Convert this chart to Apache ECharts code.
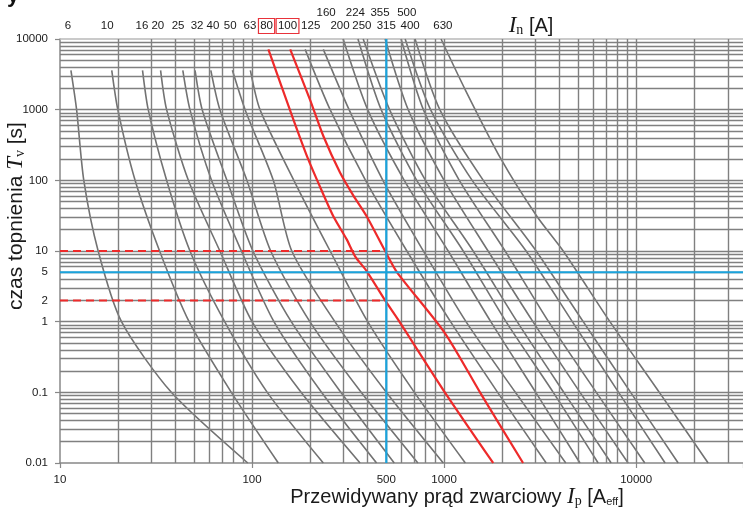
<!DOCTYPE html>
<html><head><meta charset="utf-8">
<script src="https://cdn.jsdelivr.net/npm/echarts@6/dist/echarts.min.js"></script>
<style>html,body{margin:0;padding:0;background:#fff}#c{width:743px;height:514px}</style>
</head><body><div id="c"></div>
<script>
// ---- data: melting curves [current A, time s] ----
const f6   = [[11.4,3600],[12.2,1000],[13.3,100],[15.8,10],[20.9,1],[38,0.1],[95,0.01]];
const f10  = [[18.6,3600],[20,1000],[24.6,100],[33,10],[47,1],[78,0.1],[137,0.01]];
const f16  = [[26.9,3600],[28.8,1000],[35.9,100],[47.5,10],[72,1],[120,0.1],[235,0.01]];
const f20  = [[33.4,3600],[35.9,1000],[46.6,100],[68,10],[100,1],[180,0.1],[365,0.01]];
const f25  = [[43.6,3600],[47.5,1000],[61.5,100],[88,10],[130,1],[230,0.1],[445,0.01]];
const f32  = [[50.5,3600],[55,1000],[74,100],[101,10],[160,1],[290,0.1],[550,0.01]];
const f40  = [[61,3600],[68,1000],[94,100],[125,10],[200,1],[370,0.1],[730,0.01]];
const f50  = [[79,3600],[92,1000],[129,100],[161,10],[270,1],[500,0.1],[990,0.01]];
const f63  = [[98,3600],[110,1000],[165,100],[255,10],[400,1],[700,0.1],[1290,0.01]];
const f80  = [[121.6,7140],[164,731],[196,199],[221,92.7],[265,31],[311,14.6],[344,8.4],[395,5.2],[493,2.0],[576,1.07],[1009,0.1],[1800,0.01]];
const f100 = [[158,7140],[200,1402],[235,424],[287,129],[337,60.7],[395,31],[493,10],[569,5],[1009,0.69],[1563,0.093],[2577,0.01]];
const f125 = [[189,7140],[255,1000],[390,100],[640,10],[1080,1],[1900,0.1],[3400,0.01]];
const f160 = [[235,7140],[320,1000],[480,100],[780,10],[1300,1],[2350,0.1],[4300,0.01]];
const f200 = [[298,10000],[400,1000],[620,100],[1050,10],[1750,1],[3000,0.1],[5100,0.01]];
const f224 = [[356,10000],[470,1000],[720,100],[1257,10],[2100,1],[3700,0.1],[6340,0.01]];
const f250 = [[379,10000],[520,1000],[800,100],[1416,10],[2400,1],[4200,0.1],[7410,0.01]];
const f315 = [[493,10000],[650,1000],[1000,100],[1694,10],[2900,1],[5100,0.1],[9080,0.01]];
const f355 = [[597,10000],[780,1000],[1200,100],[2078,10],[3500,1],[6200,0.1],[11090,0.01]];
const f400 = [[627,10000],[850,1000],[1400,100],[2673,10],[4650,1],[8100,0.1],[14150,0.01]];
const f500 = [[706,10000],[950,1000],[1600,100],[3014,10],[5300,1],[9360,0.1],[16550,0.01]];
const f630 = [[964,10000],[1283,1960],[1980,199],[3040,31],[4170,10],[7300,1],[13200,0.1],[23700,0.01]];
const curves = [f6,f10,f16,f20,f25,f32,f40,f50,f63,f80,f100,f125,f160,f200,f224,f250,f315,f355,f400,f500,f630];
const curveNames = ['6','10','16','20','25','32','40','50','63','80','100','125','160','200','224','250','315','355','400','500','630'];
const highlighted = ['80','100'];

// top label rows (rated current In) and where they sit on the current axis
const topLabels   = ['6','10','16','20','25','32','40','50','63','80','100','125','200','250','315','400','630'];
const topLabelAt  = [11,17.6,26.7,32.3,41.2,51.7,62.6,76.9,97.5,119,153,202,287,373,500,665,985];
const topLabels2  = ['160','224','355','500'];
const topLabel2At = [243,345,464,639];

// axis tick labels
const xTickVals = [10,100,500,1000,10000];
const xTickText = ['10','100','500','1000','10000'];
const yTickVals = [10000,1000,100,10,5,2,1,0.1,0.01];
const yTickText = ['10000','1000','100','10','5','2','1','0.1','0.01'];

// reference lines
const markCurrent = 500;
const markTime = 5;
const dashTimes = [10,2];

const X_MIN = 10, X_MAX = 36000, Y_MIN = 0.01, Y_MAX = 10000;

// grid line values (log grid 1..9 per decade)
const gridX = [], gridY = [];
for (let d = 10; d < X_MAX; d *= 10) for (let k = 1; k <= 9; k++) { const v = k*d; if (v > X_MIN && v <= X_MAX) gridX.push(v); }
for (let d = 0.01; d < Y_MAX; d *= 10) for (let k = 1; k <= 9; k++) { const v = +(k*d).toPrecision(3); if (v > Y_MIN && v < Y_MAX) gridY.push(v); }

const GRAY = '#727272', RED = '#ee2a2a', CYAN = '#1aa3dc';
const series = [];
series.push({
  type:'line', data:[[X_MIN,Y_MIN]], showSymbol:false, lineStyle:{opacity:0}, silent:true, z:1,
  markLine:{silent:true, symbol:'none', label:{show:false}, animation:false,
    lineStyle:{color:'#808080', width:1.4, type:'solid'},
    data: gridX.map(v=>({xAxis:v})).concat(gridY.map(v=>({yAxis:v})))}
});
curves.forEach((d,i)=>{
  const red = highlighted.includes(curveNames[i]);
  series.push({type:'line', name:curveNames[i], data:d, showSymbol:false, smooth:0.25, silent:true,
    lineStyle:{color: red?RED:GRAY, width: red?2.2:1.6}, z: red?6:4});
});
dashTimes.forEach(t=>series.push({type:'line', data:[[X_MIN,t],[markCurrent,t]], showSymbol:false, silent:true,
  lineStyle:{color:RED, width:2, type:[8,5]}, z:7}));
series.push({type:'line', data:[[markCurrent,Y_MIN],[markCurrent,Y_MAX]], showSymbol:false, silent:true, lineStyle:{color:CYAN,width:2.2}, z:8});
series.push({type:'line', data:[[X_MIN,markTime],[X_MAX,markTime]], showSymbol:false, silent:true, lineStyle:{color:CYAN,width:2.2}, z:8});

const option = {
  animation:false,
  backgroundColor:'#fff',
  grid:{left:60, right:0, top:39, bottom:51, containLabel:false},
  xAxis:{type:'log', logBase:10, min:X_MIN, max:X_MAX,
    axisLine:{show:true, onZero:false, lineStyle:{color:'#888', width:1.5}},
    axisTick:{show:true, length:5, lineStyle:{color:'#888', width:1.2}},
    axisLabel:{show:false}, splitLine:{show:false}},
  yAxis:{type:'log', logBase:10, min:Y_MIN, max:Y_MAX,
    axisLine:{show:true, onZero:false, lineStyle:{color:'#888', width:1.5}},
    axisTick:{show:true, length:5, lineStyle:{color:'#888', width:1.2}},
    axisLabel:{show:false}, splitLine:{show:false}},
  series
};
const chart = echarts.init(document.getElementById('c'));
chart.setOption(option);
const P = (x,y)=>chart.convertToPixel({gridIndex:0},[x,y]);
const topY = P(X_MIN,Y_MAX)[1], botY = P(X_MIN,Y_MIN)[1], leftX = P(X_MIN,1)[0], rightX = P(X_MAX,1)[0];
const NUMF = '11.5px "Liberation Sans", Arial, sans-serif';
const g = [];
function txt(x,y,text,align,font,extra){
  return Object.assign({type:'text', x, y, silent:true, z:20, style:{text, font:font||NUMF, fill:'#1a1a1a',
    textAlign:align||'center', align:align||'center', textVerticalAlign:'middle', verticalAlign:'middle'}}, extra||{});
}
// top border
g.push({type:'line', silent:true, z:3, shape:{x1:leftX,y1:topY,x2:rightX,y2:topY}, style:{stroke:'#b8b8b8', lineWidth:1.5}});
yTickVals.forEach((v,i)=>g.push(txt(leftX-12, P(X_MIN,v)[1], yTickText[i], 'right')));
xTickVals.forEach((v,i)=>g.push(txt(P(v,Y_MIN)[0], botY+17, xTickText[i], 'center')));
topLabels.forEach((s,i)=>{
  const x = P(topLabelAt[i],Y_MAX)[0];
  g.push(txt(x, 26, s, 'center'));
  if (highlighted.includes(s)) {
    const w = s.length*6.6 + 3;
    g.push({type:'rect', silent:true, z:19, shape:{x:x-w/2, y:18.5, width:w, height:15}, style:{fill:'none', stroke:'#e8323a', lineWidth:1.2}});
  }
});
topLabels2.forEach((s,i)=>g.push(txt(P(topLabel2At[i],Y_MAX)[0], 12.5, s, 'center')));
// clipped heading fragment at the very top-left corner
g.push({type:'text', x:13, y:7, silent:true, z:20, style:{text:'y', font:'bold 22px "Liberation Sans", Arial, sans-serif', fill:'#111', textAlign:'center', align:'center', textVerticalAlign:'bottom', verticalAlign:'bottom'}});
// axis titles
const SANS = '"Liberation Sans", Arial, sans-serif', SERIF = '"Liberation Serif", "Times New Roman", serif';
const rich = {
  s:{fontFamily:SANS, fontSize:20, fill:'#1a1a1a', color:'#1a1a1a'},
  s2:{fontFamily:SANS, fontSize:21, fill:'#1a1a1a', color:'#1a1a1a'},
  i:{fontFamily:SERIF, fontStyle:'italic', fontSize:23, fill:'#1a1a1a', color:'#1a1a1a'},
  sub:{fontFamily:SERIF, fontSize:14, fill:'#1a1a1a', color:'#1a1a1a', padding:[9,0,0,0]},
  ssub:{fontFamily:SANS, fontSize:11, fill:'#1a1a1a', color:'#1a1a1a', padding:[9,0,0,0]}
};
g.push({type:'text', x:531, y:26, silent:true, z:20, style:{text:'{i|I}{sub|n}{s| [A]}', rich, textAlign:'center', align:'center', textVerticalAlign:'middle', verticalAlign:'middle'}});
g.push({type:'text', x:457, y:497, silent:true, z:20, style:{text:'{s|Przewidywany prąd zwarciowy }{i|I}{sub|p}{s| [A}{ssub|eff}{s|]}', rich, textAlign:'center', align:'center', textVerticalAlign:'middle', verticalAlign:'middle'}});
g.push({type:'text', x:16, y:216, rotation:Math.PI/2, silent:true, z:20, style:{text:'{s2|czas topnienia }{i|T}{sub|v}{s2| [s]}', rich, textAlign:'center', align:'center', textVerticalAlign:'middle', verticalAlign:'middle'}});
chart.setOption({graphic:{elements:g}});
</script>
</body></html>
